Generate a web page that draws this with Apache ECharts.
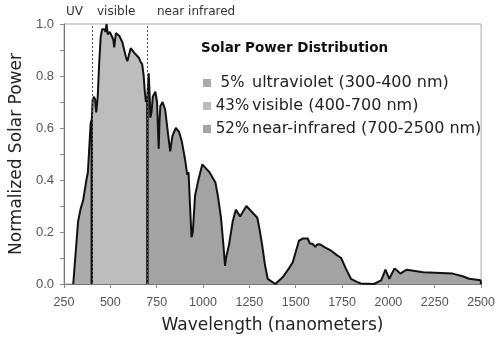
<!DOCTYPE html>
<html><head><meta charset="utf-8">
<script src="https://cdn.jsdelivr.net/npm/echarts@6/dist/echarts.min.js"></script>
<style>html,body{margin:0;padding:0;background:#fff}#c{width:498px;height:339px}</style>
</head><body><div id="c"></div>
<script>
// Wavelength (nm) / normalized power
const uvNm  = [300, 326, 340, 353, 371, 379, 388, 394, 400, 400];
const uvVal = [0, 0.24, 0.29, 0.32, 0.40, 0.43, 0.425, 0.62, 0.63, 0];

const visNm  = [400, 400, 405, 412, 418, 424, 432, 440, 448, 456, 468, 474, 480, 486, 491, 497, 504, 510, 516, 521, 530, 548, 565, 575, 583, 592, 600, 610, 628, 654, 663, 672, 680, 686, 692, 700, 700];
const visVal = [0, 0.63, 0.71, 0.72, 0.71, 0.66, 0.72, 0.85, 0.95, 0.98, 0.98, 0.97, 1.0, 0.96, 0.955, 0.97, 0.965, 0.95, 0.94, 0.91, 0.965, 0.955, 0.93, 0.90, 0.876, 0.857, 0.88, 0.907, 0.89, 0.87, 0.855, 0.845, 0.80, 0.74, 0.70, 0.72, 0];

const nirNm  = [700, 700, 707, 712, 716, 722, 729, 743, 752, 757, 761, 765, 770, 782, 796, 810, 823, 835, 853, 871, 885, 903, 915, 922, 930, 938, 945, 957, 975, 996, 1035, 1067, 1080, 1097, 1110, 1119, 1124, 1130, 1140, 1160, 1177, 1200, 1234, 1260, 1293, 1305, 1319, 1335, 1349, 1390, 1431, 1468, 1484, 1518, 1539, 1565, 1576, 1590, 1606, 1615, 1629, 1660, 1691, 1720, 1745, 1770, 1798, 1830, 1851, 1922, 1961, 1984, 2005, 2033, 2050, 2064, 2099, 2188, 2347, 2400, 2436, 2497, 2500];
const nirVal = [0, 0.72, 0.81, 0.73, 0.64, 0.66, 0.72, 0.74, 0.70, 0.60, 0.52, 0.62, 0.685, 0.70, 0.67, 0.585, 0.51, 0.57, 0.60, 0.585, 0.55, 0.48, 0.42, 0.43, 0.30, 0.18, 0.20, 0.34, 0.40, 0.46, 0.43, 0.39, 0.34, 0.255, 0.15, 0.07, 0.10, 0.10, 0.15, 0.24, 0.286, 0.26, 0.30, 0.28, 0.255, 0.21, 0.15, 0.07, 0.02, 0, 0.027, 0.065, 0.084, 0.167, 0.175, 0.175, 0.156, 0.155, 0.143, 0.152, 0.153, 0.14, 0.128, 0.112, 0.10, 0.06, 0.02, 0.008, 0.002, 0, 0.014, 0.055, 0.02, 0.06, 0.05, 0.04, 0.055, 0.045, 0.04, 0.03, 0.02, 0.014, 0];

const seriesNames = ['5% ultraviolet (300-400 nm)', '43% visible (400-700 nm)', '52% near-infrared (700-2500 nm)'];
const legendPct = ['5%', '43%', '52%'];
const legendTxt = ['ultraviolet (300-400 nm)', 'visible (400-700 nm)', 'near-infrared (700-2500 nm)'];
const fills = ['#ababab', '#bdbdbd', '#a3a3a3'];
const bandLabels = ['UV', 'visible', 'near infrared'];
const dividers = [400, 700];

const zip = (a, b) => a.map((v, i) => [v, b[i]]);
const FONT = 'Liberation Sans';
const WIDE = 'DejaVu Sans';

const mk = (i, nm, val) => ({
  name: seriesNames[i], type: 'line', data: zip(nm, val), symbol: 'none',
  lineStyle: { color: '#111', width: 2 }, itemStyle: { color: fills[i] },
  areaStyle: { color: fills[i], opacity: 1 }, z: 2
});

const s = [mk(0, uvNm, uvVal), mk(1, visNm, visVal), mk(2, nirNm, nirVal)];
s[2].markLine = {
  silent: true, symbol: 'none', label: { show: false },
  lineStyle: { color: '#555', type: [2, 2], width: 1 },
  data: dividers.map(v => ({ xAxis: v }))
};

const chart = echarts.init(document.getElementById('c'));
chart.setOption({
  animation: false,
  grid: { left: 59, right: 16, top: 24, bottom: 52, show: true, borderColor: '#aaa', borderWidth: 1 },
  title: { text: 'Solar Power Distribution', left: 201, top: 41, padding: 0,
    textStyle: { fontFamily: WIDE, fontWeight: 'bold', fontSize: 13.5, color: '#111' } },
  legend: {
    orient: 'vertical', left: 203, top: 74, padding: 0, itemGap: 5, icon: 'rect', itemWidth: 8, itemHeight: 8,
    data: seriesNames.map((n, i) => ({ name: n, itemStyle: { color: fills[i], borderWidth: 0 } })),
    formatter: n => { const i = seriesNames.indexOf(n); return '{p|' + legendPct[i] + '}{t|' + legendTxt[i] + '}'; },
    textStyle: { fontFamily: WIDE, fontSize: 16, color: '#222', lineHeight: 18,
      rich: { p: { width: 33, align: 'right', fontFamily: WIDE, fontSize: 15, color: '#222' },
              t: { fontFamily: WIDE, fontSize: 16, color: '#222', padding: [0, 0, 0, 3] } } }
  },
  xAxis: {
    type: 'value', min: 250, max: 2500, interval: 250,
    name: 'Wavelength (nanometers)', nameLocation: 'middle', nameGap: 33,
    nameTextStyle: { fontFamily: WIDE, fontSize: 17, color: '#222' },
    axisLine: { show: true, lineStyle: { color: '#777', width: 1 } },
    axisTick: { show: true, length: 4, lineStyle: { color: '#888' } },
    axisLabel: { fontFamily: FONT, fontSize: 12.5, color: '#555', margin: 12, formatter: v => String(v) },
    splitLine: { show: false }
  },
  yAxis: {
    type: 'value', min: 0, max: 1, interval: 0.2,
    name: 'Normalized Solar Power', nameLocation: 'middle', nameGap: 35,
    nameTextStyle: { fontFamily: WIDE, fontSize: 17, color: '#222' },
    axisLine: { show: true, lineStyle: { color: '#777', width: 1 } },
    axisTick: { show: true, length: 4, lineStyle: { color: '#888' } },
    minorTick: { show: true, splitNumber: 2, length: 4, lineStyle: { color: '#888' } },
    axisLabel: { fontFamily: FONT, fontSize: 13, color: '#555', margin: 10, formatter: v => v.toFixed(1) },
    splitLine: { show: false }
  },
  graphic: [
    { type: 'text', left: 66, top: 6, style: { text: bandLabels[0], fontFamily: WIDE, fontSize: 12, fill: '#333' } },
    { type: 'text', left: 97, top: 6, style: { text: bandLabels[1], fontFamily: WIDE, fontSize: 12, fill: '#333' } },
    { type: 'text', left: 157, top: 6, style: { text: bandLabels[2], fontFamily: WIDE, fontSize: 12, fill: '#333' } }
  ],
  series: s
});
</script></body></html>
